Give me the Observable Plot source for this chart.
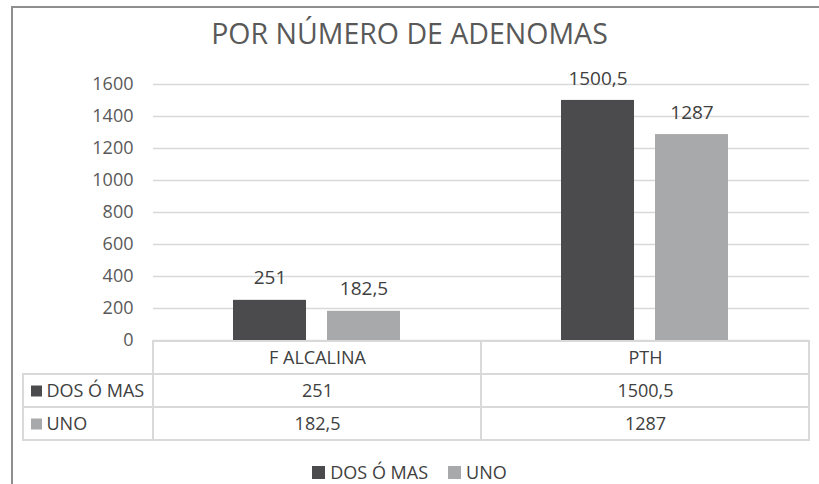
<!DOCTYPE html>
<html>
<head>
<meta charset="utf-8">
<script src="https://cdn.jsdelivr.net/npm/d3@7"></script>
<script src="https://cdn.jsdelivr.net/npm/@observablehq/plot@0.6"></script>
<style>
  html, body { margin: 0; padding: 0; background: #fff; }
  #root { position: relative; width: 819px; height: 484px; overflow: hidden; font-family: "Open Sans", sans-serif; }
  #frame { position: absolute; left: 11px; top: 6px; width: 900px; height: 600px; border-left: 2px solid #8f8f8f; border-top: 2px solid #8f8f8f; }
  #title { position: absolute; left: 0; top: 19px; width: 819px; text-align: center; font-size: 28.5px; line-height: 28.5px; color: #595959; }
  #chart { position: absolute; left: 0; top: 60px; }
  #table { position: absolute; left: 0; top: 340px; }
  #legend { position: absolute; left: 0; top: 460px; width: 819px; display: flex; justify-content: center; align-items: center; font-size: 18px; line-height: 24px; color: #404040; }
  #legend .item { display: flex; align-items: center; margin: 0 10px; }
  #legend .sw { width: 13px; height: 13px; margin-right: 5px; }
  svg { overflow: visible; }
</style>
</head>
<body>
<div id="root">
  <div id="frame"></div>
  <div id="title">POR NÚMERO DE ADENOMAS</div>
  <div id="chart"></div>
  <div id="table"></div>
  <div id="legend"></div>
</div>
<script>
const categories = ["F ALCALINA", "PTH"];
const series = ["DOS Ó MAS", "UNO"];
const dosOMas = [251, 1500.5];
const uno = [182.5, 1287];
const yTicks = [0, 200, 400, 600, 800, 1000, 1200, 1400, 1600];
const colors = ["#4b4b4d", "#a8a9ab"];

const seriesValues = [dosOMas, uno];
const fmt = v => String(v).replace(".", ",");

const data = categories.flatMap((c, i) =>
  series.map((s, j) => ({cat: c, series: s, value: seriesValues[j][i]})));

const W = 819, ML = 153, MR = 10;

const chart = Plot.plot({
  width: W, height: 290,
  marginTop: 24, marginBottom: 10, marginLeft: ML, marginRight: MR,
  style: {fontFamily: "Open Sans", fontSize: "18px", color: "#595959", background: "transparent", overflow: "visible"},
  fx: {domain: categories, padding: 0, axis: null},
  x: {domain: series, paddingInner: 0.221, paddingOuter: 0.837, axis: null},
  y: {domain: [0, 1600]},
  color: {domain: series, range: colors},
  marks: [
    Plot.gridY(yTicks, {stroke: "#d9d9d9", strokeOpacity: 1, strokeWidth: 1.5}),
    Plot.axisY(yTicks, {tickSize: 0, tickPadding: 20, fontSize: 18, fill: "#595959", label: null, tickFormat: d => String(d)}),
    Plot.barY(data, {fx: "cat", x: "series", y: "value", fill: "series", inset: 0}),
    Plot.text(data, {fx: "cat", x: "series", y: "value", text: d => fmt(d.value), dy: -22, fontSize: 19, fill: "#404040"})
  ]
});
document.getElementById("chart").appendChild(chart);

// Data table under the chart
const tableRows = ["header", ...series];
const tableCells = categories.flatMap((c, i) => [
  {cat: c, row: "header", text: c},
  ...series.map((s, j) => ({cat: c, row: s, text: fmt(seriesValues[j][i])}))
]);
const labelCells = series.map(s => ({row: s}));
const bandW = (W - ML - MR) / categories.length;
const labelW = 130;

const table = Plot.plot({
  width: W, height: 102,
  marginTop: 1, marginBottom: 2, marginLeft: ML, marginRight: MR,
  style: {fontFamily: "Open Sans", fontSize: "18px", color: "#404040", background: "transparent", overflow: "visible"},
  x: {domain: categories, padding: 0, axis: null},
  y: {domain: tableRows, padding: 0, axis: null},
  color: {domain: series, range: colors},
  marks: [
    Plot.cell(labelCells, {x: () => categories[0], y: "row", dx: -labelW, inset: 0, insetRight: bandW - labelW, fill: "white", stroke: "#d9d9d9", strokeWidth: 2}),
    Plot.cell(tableCells, {x: "cat", y: "row", inset: 0, fill: "white", stroke: "#d9d9d9", strokeWidth: 2}),
    Plot.text(tableCells, {x: "cat", y: "row", text: "text", fontSize: 18, fill: "#404040"}),
    Plot.dot(labelCells, {y: "row", frameAnchor: "left", dx: -117, symbol: "square", r: 6.2, fill: "row", stroke: null}),
    Plot.text(labelCells, {y: "row", text: "row", frameAnchor: "left", textAnchor: "start", dx: -107, fontSize: 18, fill: "#404040"})
  ]
});
document.getElementById("table").appendChild(table);

// Legend
const legend = document.getElementById("legend");
series.forEach((s, i) => {
  const item = document.createElement("div");
  item.className = "item";
  const sw = document.createElement("span");
  sw.className = "sw";
  sw.style.background = colors[i];
  const label = document.createElement("span");
  label.textContent = s;
  item.appendChild(sw);
  item.appendChild(label);
  legend.appendChild(item);
});
</script>
</body>
</html>
